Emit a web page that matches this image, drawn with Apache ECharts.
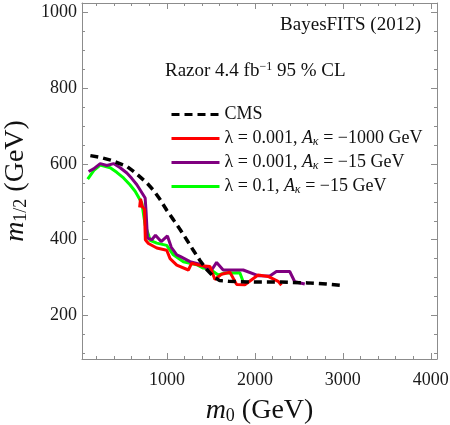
<!DOCTYPE html>
<html><head><meta charset="utf-8">
<script src="https://cdn.jsdelivr.net/npm/echarts@6/dist/echarts.min.js"></script>
<style>html,body{margin:0;padding:0;background:#fff}#c{width:450px;height:425px}</style>
</head><body><div id="c"></div>
<script>
// ---- data ----
const xMajor = [1000, 2000, 3000, 4000];
const xMinor = [200, 400, 600, 800, 1200, 1400, 1600, 1800, 2200, 2400, 2600, 2800, 3200, 3400, 3600, 3800];
const yMajor = [200, 400, 600, 800, 1000];
const yMinor = [100, 150, 250, 300, 350, 450, 500, 550, 650, 700, 750, 850, 900, 950];

const seriesNames = ['CMS', 'red', 'purple', 'green'];
const cms = [[130,622],[250,617],[360,610],[545,594],[650,575],[772,550],[850,530],[923,506],[1000,477],[1073,453],[1150,427],[1225,400],[1300,372],[1376,345],[1450,322],[1527,303],[1600,292],[1700,290],[2000,288],[2300,288],[2600,286],[2813,283],[3000,279]];
const redCurve = [[690,485],[700,508],[720,488],[745,480],[755,400],[790,390],[885,378],[998,372],[1036,350],[1112,333],[1244,320],[1282,338],[1396,331],[1490,329],[1546,295],[1622,309],[1716,314],[1792,282],[1886,281],[2037,307],[2150,303],[2264,290],[2302,280]];
const purpleCurve = [[110,580],[167,587],[242,601],[318,596],[393,601],[469,590],[545,576],[600,562],[659,545],[753,510],[764,471],[779,404],[829,400],[870,412],[935,395],[1006,410],[1050,380],[1112,360],[1150,356],[1263,342],[1396,334],[1452,325],[1509,320],[1565,340],[1640,320],[1679,320],[1867,320],[2037,305],[2170,304],[2245,316],[2396,316],[2453,289],[2567,283]];
const greenCurve = [[100,560],[170,583],[242,597],[356,590],[430,578],[507,563],[580,545],[639,528],[715,497],[753,439],[790,413],[809,398],[885,391],[998,385],[1073,360],[1187,342],[1339,334],[1414,325],[1490,322],[1584,307],[1660,312],[1829,313],[1870,287]];

// ---- chart ----
const FONT = 'Liberation Serif';
const AX = '#8c8c8c';
const X_MIN = 35, X_MAX = 4070, Y_MIN = 85, Y_MAX = 1025;
const plain = function (v) { return String(v); };

function xAxis(pos, ticks, len, labels, line) {
  return {
    type: 'value', min: X_MIN, max: X_MAX, position: pos, gridIndex: 0,
    axisLine: { show: line, lineStyle: { color: AX, width: 1 } },
    axisTick: { show: true, inside: true, length: len, customValues: ticks, lineStyle: { color: AX } },
    axisLabel: labels ? { show: true, customValues: ticks, formatter: plain, margin: 12, fontFamily: FONT, fontSize: 18, color: '#1a1a1a' } : { show: false },
    splitLine: { show: false }
  };
}
function yAxis(pos, ticks, len, labels, line) {
  return {
    type: 'value', min: Y_MIN, max: Y_MAX, position: pos, gridIndex: 0,
    axisLine: { show: line, lineStyle: { color: AX, width: 1 } },
    axisTick: { show: true, inside: true, length: len, customValues: ticks, lineStyle: { color: AX } },
    axisLabel: labels ? { show: true, customValues: ticks, formatter: plain, margin: 5, fontFamily: FONT, fontSize: 18, color: '#1a1a1a' } : { show: false },
    splitLine: { show: false }
  };
}

const xs = [xAxis('bottom', xMajor, 6, true, true), xAxis('bottom', xMinor, 3, false, false),
            xAxis('top', xMajor, 6, false, true), xAxis('top', xMinor, 3, false, false)];
const ys = [yAxis('left', yMajor, 6, true, true), yAxis('left', yMinor, 3, false, false),
            yAxis('right', yMajor, 6, false, true), yAxis('right', yMinor, 3, false, false)];

const titleRich = {
  m: { fontFamily: FONT, fontStyle: 'italic', fontSize: 28, color: '#111' },
  s: { fontFamily: FONT, fontSize: 18, verticalAlign: 'bottom', padding: [11, 0, 0, 0], color: '#111' },
  n: { fontFamily: FONT, fontSize: 28, color: '#111' }
};
xs[0].name = '{m|m}{s|0}{n| (GeV)}';
xs[0].nameLocation = 'middle';
xs[0].nameGap = 37;
xs[0].nameTextStyle = { fontFamily: FONT, color: '#111', rich: titleRich };
ys[0].name = '{m|m}{s|1/2}{n| (GeV)}';
ys[0].nameLocation = 'middle';
ys[0].nameRotate = 90;
ys[0].nameGap = 44;
ys[0].nameTextStyle = { fontFamily: FONT, color: '#111', rich: titleRich };

const legendLabels = {
  CMS: 'CMS',
  red: 'λ = 0.001, {i|A}{s|κ} = −1000 GeV',
  purple: 'λ = 0.001, {i|A}{s|κ} = −15 GeV',
  green: 'λ = 0.1, {i|A}{s|κ} = −15 GeV'
};

function line(name, data, color, width, type, z) {
  return { name: name, type: 'line', data: data, xAxisIndex: 0, yAxisIndex: 0, symbol: 'none',
    showSymbol: false, z: z, animation: false,
    lineStyle: { color: color, width: width, type: type }, itemStyle: { color: color } };
}

const chart = echarts.init(document.getElementById('c'), null, { renderer: 'canvas' });
chart.setOption({
  backgroundColor: '#fff',
  animation: false,
  grid: { left: 82, right: 13, top: 3, bottom: 66, containLabel: false, outerBoundsMode: 'none' },
  xAxis: xs,
  yAxis: ys,
  legend: {
    show: true,
    data: seriesNames, orient: 'vertical', left: 170, top: 105, padding: 0,
    itemWidth: 48, itemHeight: 14, itemGap: 5, selectedMode: false,
    itemStyle: { opacity: 0 },
    lineStyle: { width: 3 },
    formatter: function (n) { return legendLabels[n]; },
    textStyle: { fontFamily: FONT, fontSize: 18, color: '#111', lineHeight: 19,
      rich: { i: { fontFamily: FONT, fontStyle: 'italic', fontSize: 18, color: '#111' },
              s: { fontFamily: FONT, fontStyle: 'italic', fontSize: 12, verticalAlign: 'bottom', padding: [6, 0, 0, 0], color: '#111' } } }
  },
  graphic: [
    { type: 'text', right: 29, top: 16, style: { text: 'BayesFITS (2012)', font: '19px "Liberation Serif"', fill: '#111' } },
    { type: 'text', left: 165, top: 61, style: { text: '{n|Razor 4.4 fb}{p|−1}{n| 95 % CL}', fill: '#111',
      rich: { n: { fontFamily: FONT, fontSize: 19, color: '#111' },
              p: { fontFamily: FONT, fontSize: 12, verticalAlign: 'top', padding: [0, 0, 8, 0], color: '#111' } } } }
  ],
  series: [
    line('green', greenCurve, '#00ff00', 3, 'solid', 2),
    line('purple', purpleCurve, '#800080', 3, 'solid', 3),
    line('red', redCurve, '#ff0000', 3, 'solid', 4),
    line('CMS', cms, '#000000', 3.5, [8, 5], 5)
  ]
});
</script></body></html>
